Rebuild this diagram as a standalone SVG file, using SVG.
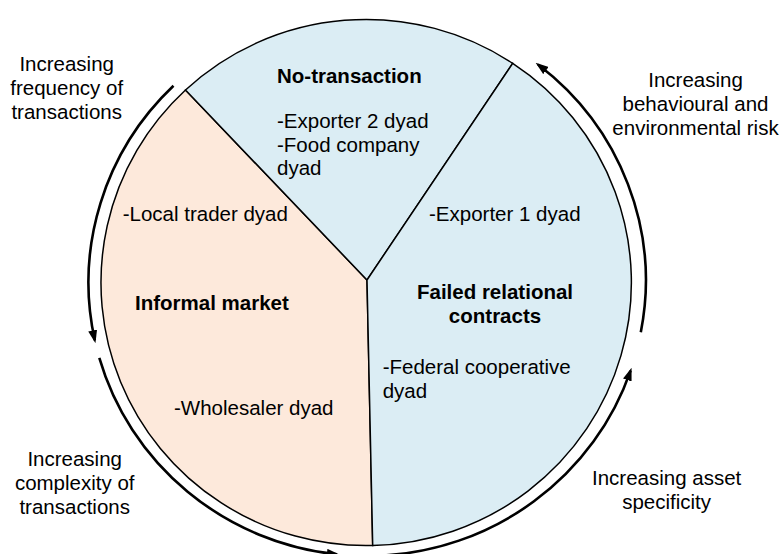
<svg xmlns="http://www.w3.org/2000/svg" width="782" height="554" viewBox="0 0 782 554">
  <style>
    text { font-family: "Liberation Sans", Arial, sans-serif; font-size: 20.5px; fill: #000; }
    .b { font-weight: bold; }
    .c { text-anchor: middle; }
    .sector { stroke: #000; stroke-width: 1.5; stroke-linejoin: miter; }
    .peach { fill: #FDE9DB; }
    .blue { fill: #DBEDF4; }
    .arc { fill: none; stroke: #000; stroke-width: 2.6; marker-end: url(#ah); }
  </style>
  <defs>
    <marker id="ah" viewBox="0 0 13 9" refX="10" refY="4.5" markerWidth="13" markerHeight="9" markerUnits="userSpaceOnUse" orient="auto">
      <path d="M0,0 L13,4.5 L0,9 Z" fill="#000"/>
    </marker>
  </defs>
  <rect width="782" height="554" fill="#fff"/>

  <g id="informal-market">
    <path class="sector peach" d="M367,280 L185.5,90 A265,263 0 0,0 372.7,545.5 Z"/>
    <text x="122.7" y="221">-Local trader dyad</text>
    <text class="b" x="135" y="310">Informal market</text>
    <text x="174" y="415">-Wholesaler dyad</text>
  </g>

  <g id="no-transaction">
    <path class="sector blue" d="M367,280 L512.7,63.3 A265,263 0 0,0 185.5,90 Z"/>
    <text class="b" x="277" y="83">No-transaction</text>
    <text x="277" y="128">-Exporter 2 dyad</text>
    <text x="277" y="152">-Food company</text>
    <text x="277" y="175">dyad</text>
  </g>

  <g id="failed-relational-contracts">
    <path class="sector blue" d="M367,280 L372.7,545.5 A265,263 0 0,0 512.7,63.3 Z"/>
    <text x="429" y="221">-Exporter 1 dyad</text>
    <text class="b c" x="495" y="299">Failed relational</text>
    <text class="b c" x="495" y="323">contracts</text>
    <text x="382.7" y="374">-Federal cooperative</text>
    <text x="382.7" y="398">dyad</text>
  </g>

  <g id="connectors">
    <path id="arc-frequency" class="arc" d="M173.5,85.8 A278.5,273.5 0 0,0 94.8,340.3"/>
    <path id="arc-complexity" class="arc" d="M99.3,357.9 A278.5,273.5 0 0,0 336.9,554.4"/>
    <path id="arc-asset" class="arc" d="M379.1,555.7 A278.5,273.5 0 0,0 630.6,370.6"/>
    <path id="arc-risk" class="arc" d="M640.8,332.3 A278.5,273.5 0 0,0 538,64.5"/>
  </g>

  <g id="label-frequency">
    <text class="c" x="66.7" y="71">Increasing</text>
    <text class="c" x="66.7" y="95">frequency of</text>
    <text class="c" x="66.7" y="119">transactions</text>
  </g>
  <g id="label-risk">
    <text class="c" x="695.5" y="87">Increasing</text>
    <text class="c" x="695.5" y="111">behavioural and</text>
    <text class="c" x="695.5" y="135">environmental risk</text>
  </g>
  <g id="label-complexity">
    <text class="c" x="74.7" y="466">Increasing</text>
    <text class="c" x="74.7" y="490">complexity of</text>
    <text class="c" x="74.7" y="514">transactions</text>
  </g>
  <g id="label-asset">
    <text class="c" x="666.6" y="485">Increasing asset</text>
    <text class="c" x="666.6" y="509">specificity</text>
  </g>
</svg>
